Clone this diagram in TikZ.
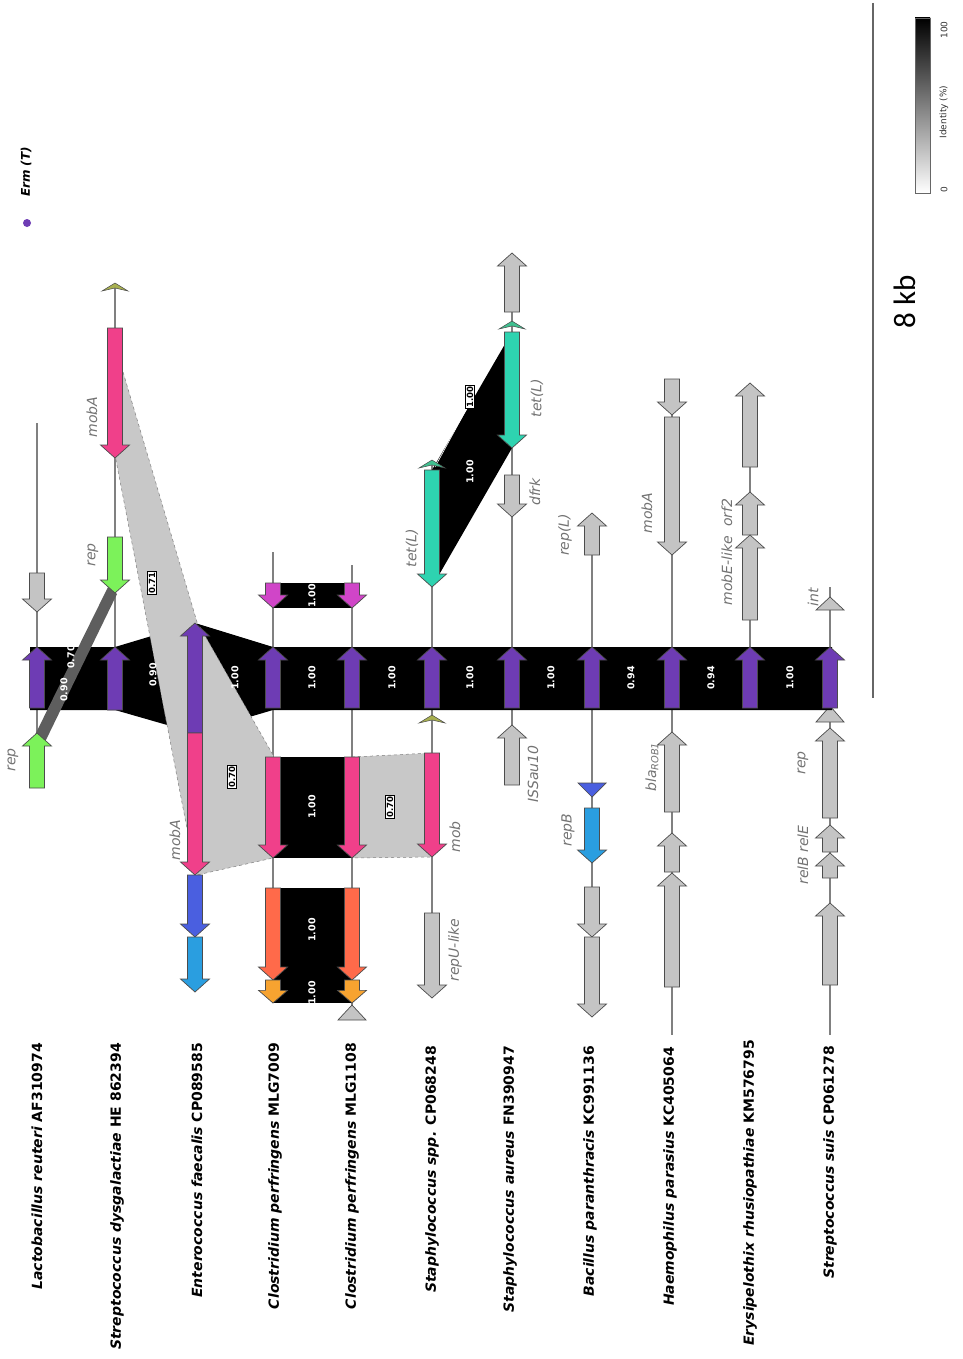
\documentclass[tikz,border=0pt]{standalone}
\usepackage{fontspec}
\setmainfont{DejaVu Sans}
\newfontfamily\kbfont{Carlito}
\definecolor{ermpurple}{HTML}{6E3CB4}
\definecolor{mobpink}{HTML}{F0408A}
\definecolor{repgreen}{HTML}{7CF25A}
\definecolor{magen}{HTML}{D045C8}
\definecolor{tealc}{HTML}{2ED3B0}
\definecolor{tomatoc}{HTML}{FF6A4A}
\definecolor{orangec}{HTML}{F7A330}
\definecolor{royalc}{HTML}{4A5FE0}
\definecolor{skyc}{HTML}{2A9EE0}
\definecolor{genegray}{HTML}{C4C4C4}
\definecolor{simgray}{HTML}{C8C8C8}
\definecolor{darkstrip}{HTML}{5E5E5E}
\definecolor{olivec}{HTML}{A8B050}
\definecolor{markgreen}{HTML}{40C090}
\newcommand\gene[4]{%
  \pgfmathsetmacro\gd{(#3>#2)?1:-1}%
  \pgfmathsetmacro\gl{abs(#3-#2)}%
  \pgfmathsetmacro\gh{min(13,0.55*\gl)}%
  \pgfmathsetmacro\gn{#3-\gd*\gh}%
  \filldraw[genebox, fill=#4] ({#1-7.5},#2) -- ({#1+7.5},#2) -- ({#1+7.5},\gn) -- ({#1+14.5},\gn) -- (#1,#3) -- ({#1-14.5},\gn) -- ({#1-7.5},\gn) -- cycle;}
\newcommand\tri[4]{% x, apex y, base y, colour
  \filldraw[genebox, fill=#4] (#1,#2) -- ({#1+14},#3) -- ({#1-14},#3) -- cycle;}
\newcommand\marker[3]{% x, y, colour
  \filldraw[genebox, line width=0.5pt, fill=#3] ({#1-13},{#2+3}) -- (#1,{#2-5}) -- ({#1+13},{#2+3}) -- (#1,{#2}) -- cycle;}
\tikzset{
 trk/.style={draw=black!50, line width=1.1pt},
 genebox/.style={draw=black!70, line width=0.7pt, line join=miter},
 glabel/.style={rotate=90, text=black!55, font=\fontsize{14}{16}\selectfont\itshape, inner sep=0pt},
 slabel/.style={rotate=90, anchor=east, font=\fontsize{14}{16}\selectfont\bfseries, inner sep=0pt},
 idval/.style={rotate=90, text=white, font=\fontsize{9.5}{10}\selectfont\bfseries, inner sep=0pt},
 idbox/.style={rotate=90, fill=white, draw=black, line width=0.9pt, font=\fontsize{8.5}{9}\selectfont\bfseries, inner sep=1pt},
 simreg/.style={fill=simgray, draw=black!50, dashed, line width=0.5pt},
}
\begin{document}
\begin{tikzpicture}[x=1pt,y=-1pt]
\useasboundingbox[fill=white] (0,0) rectangle (962,1359);
% ---------- legend ----------
\fill[ermpurple] (27,223) circle (4);
\node[rotate=90, font=\fontsize{12}{14}\selectfont\bfseries\itshape] (ermleg) at (26,172) {Erm (T)};
\shade[top color=black, bottom color=white] (915,18) rectangle (930,193);
\draw[black!60, line width=0.6pt] (915,18) rectangle (930,193);
\node[rotate=90, font=\fontsize{9}{10}\selectfont, text=black!80] (l100) at (944,30) {100};
\node[rotate=90, font=\fontsize{9}{10}\selectfont, text=black!80] (lid) at (944,112) {Identity (\%)};
\node[rotate=90, font=\fontsize{9}{10}\selectfont, text=black!80] (l0) at (944,190) {0};
% scale bar
\draw[black!60, line width=1.2pt] (873,3) -- (873,698);
\node[rotate=90, font=\kbfont\fontsize{31}{33}\selectfont] (kb) at (905,302) {8 kb};
% ---------- track lines ----------
\draw[trk] (37,423) -- (37,788);
\draw[trk] (115,288) -- (115,710);
\draw[trk] (273,552) -- (273,1003);
\draw[trk] (352,565) -- (352,1012);
\draw[trk] (432,463) -- (432,998);
\draw[trk] (512,253) -- (512,785);
\draw[trk] (592,513) -- (592,1017);
\draw[trk] (672,379) -- (672,1035);
\draw[trk] (750,383) -- (750,708);
\draw[trk] (830,587) -- (830,1035);
% triangle under band on T11 (partly hidden)
\tri{830}{706}{722}{genegray}
% ---------- similarity regions ----------
\fill[black] (30,647) -- (115,647) -- (195,623) -- (273,647) -- (832,647) -- (832,710) -- (273,710) -- (195,733) -- (115,710) -- (30,710) -- cycle;
\fill[darkstrip] (34,737) -- (45,742) -- (117,594) -- (108,587) -- cycle;
\filldraw[simreg] (118,355) -- (197,622) -- (195,870) -- (115,455) -- cycle;
\filldraw[simreg] (200,627) -- (273,755) -- (273,858) -- (197,875) -- cycle;
\filldraw[simreg] (352,757) -- (432,753) -- (432,857) -- (352,858) -- cycle;
\fill[black] (273,583) rectangle (352,608);
\fill[black] (273,757) rectangle (352,858);
\fill[black] (273,888) rectangle (352,1003);
\fill[black] (432,470) -- (512,332) -- (512,448) -- (432,587) -- cycle;
\draw[white, line width=0.6pt] (435,467) -- (509,331);
% ---------- genes ----------
% T1 Lactobacillus
\gene{37}{573}{612}{genegray}
\gene{37}{708}{647}{ermpurple}
\gene{37}{788}{733}{repgreen}
% T2 S. dysgalactiae
\marker{115}{288}{olivec}
\gene{115}{328}{458}{mobpink}
\gene{115}{537}{593}{repgreen}
\gene{115}{710}{647}{ermpurple}
% T3 Enterococcus
\gene{195}{733}{623}{ermpurple}
\gene{195}{733}{875}{mobpink}
\gene{195}{875}{937}{royalc}
\gene{195}{937}{992}{skyc}
% T4, T5 Clostridium
\foreach \xx in {273,352}{
  \gene{\xx}{583}{608}{magen}
  \gene{\xx}{708}{647}{ermpurple}
  \gene{\xx}{757}{858}{mobpink}
  \gene{\xx}{888}{980}{tomatoc}
  \gene{\xx}{980}{1003}{orangec}
}
\tri{352}{1005}{1020}{genegray}
% T6 Staphylococcus spp.
\marker{432}{465}{markgreen}
\gene{432}{470}{587}{tealc}
\gene{432}{708}{647}{ermpurple}
\marker{432}{720}{olivec}
\gene{432}{753}{857}{mobpink}
\gene{432}{913}{998}{genegray}
% T7 S. aureus
\gene{512}{312}{253}{genegray}
\marker{512}{326}{markgreen}
\gene{512}{332}{448}{tealc}
\gene{512}{475}{517}{genegray}
\gene{512}{708}{647}{ermpurple}
\gene{512}{785}{725}{genegray}
% T8 Bacillus
\gene{592}{555}{513}{genegray}
\gene{592}{708}{647}{ermpurple}
\filldraw[genebox, fill=royalc] (578,783) -- (606,783) -- (592,797) -- cycle;
\gene{592}{808}{863}{skyc}
\gene{592}{887}{937}{genegray}
\gene{592}{937}{1017}{genegray}
% T9 Haemophilus
\gene{672}{379}{415}{genegray}
\gene{672}{417}{555}{genegray}
\gene{672}{708}{647}{ermpurple}
\gene{672}{812}{732}{genegray}
\gene{672}{872}{833}{genegray}
\gene{672}{987}{873}{genegray}
% T10 Erysipelothrix
\gene{750}{467}{383}{genegray}
\gene{750}{535}{492}{genegray}
\gene{750}{620}{535}{genegray}
\gene{750}{708}{647}{ermpurple}
% T11 S. suis
\tri{830}{597}{610}{genegray}
\gene{830}{708}{647}{ermpurple}
\gene{830}{818}{728}{genegray}
\gene{830}{852}{825}{genegray}
\gene{830}{878}{853}{genegray}
\gene{830}{985}{903}{genegray}
% ---------- identity values ----------
\node[idval] (v12a) at (64,690) {0.90};
\node[idval] (v12b) at (71,657) {0.70};
\node[idval] (v23) at (153,675) {0.90};
\node[idval] (v34) at (235,678) {1.00};
\node[idval] (v45) at (312,678) {1.00};
\node[idval] (v56) at (392,678) {1.00};
\node[idval] (v67) at (470,678) {1.00};
\node[idval] (v78) at (551,678) {1.00};
\node[idval] (v89) at (631,678) {0.94};
\node[idval] (v910) at (711,678) {0.94};
\node[idval] (v1011) at (790,678) {1.00};
\node[idval] (vmag) at (312,596) {1.00};
\node[idval] (vpink) at (312,807) {1.00};
\node[idval] (vtom) at (312,930) {1.00};
\node[idval] (vora) at (312,993) {1.00};
\node[idval] (vtet) at (470,472) {1.00};
\node[idbox] (b23) at (152,583) {0.71};
\node[idbox] (b34) at (232,777) {0.70};
\node[idbox] (b56) at (390,807) {0.70};
\node[idbox] (btet) at (470,397) {1.00};
% ---------- gene labels ----------
\node[glabel] (g1) at (13,760) {rep};
\node[glabel] (g2) at (93,555) {rep};
\node[glabel] (g3) at (92,417) {mobA};
\node[glabel] (g4) at (175,840) {mobA};
\node[glabel] (g5) at (412,548) {tet(L)};
\node[glabel] (g6) at (455,837) {mob};
\node[glabel] (g7) at (455,950) {repU-like};
\node[glabel] (g8) at (537,398) {tet(L)};
\node[glabel] (g9) at (535,492) {dfrk};
\node[glabel] (g10) at (533,774) {ISSau10};
\node[glabel] (g11) at (565,535) {rep(L)};
\node[glabel] (g12) at (568,830) {repB};
\node[glabel] (g13) at (647,513) {mobA};
\node[glabel] (g14) at (652,767) {bla\textsubscript{ROB1}};
\node[glabel] (g15) at (727,552) {mobE-like\ \ orf2};
\node[glabel] (g16) at (813,597) {int};
\node[glabel] (g17) at (803,763) {rep};
\node[glabel] (g18) at (803,855) {relB\ relE};
% ---------- species labels ----------
\node[slabel] (s1) at (37,1043) {\itshape Lactobacillus reuteri \upshape AF310974};
\node[slabel] (s2) at (117,1043) {\itshape Streptococcus dysgalactiae \upshape HE 862394};
\node[slabel] (s3) at (197,1043) {\itshape Enterococcus faecalis \upshape CP089585};
\node[slabel] (s4) at (275,1043) {\itshape Clostridium perfringens \upshape MLG7009};
\node[slabel] (s5) at (352,1043) {\itshape Clostridium perfringens \upshape MLG1108};
\node[slabel] (s6) at (432,1046) {\itshape Staphylococcus spp. \upshape CP068248};
\node[slabel] (s7) at (510,1046) {\itshape Staphylococcus aureus \upshape FN390947};
\node[slabel] (s8) at (590,1046) {\itshape Bacillus paranthracis \upshape KC991136};
\node[slabel] (s9) at (670,1047) {\itshape Haemophilus parasius \upshape KC405064};
\node[slabel] (s10) at (750,1040) {\itshape Erysipelothix rhusiopathiae \upshape KM576795};
\node[slabel] (s11) at (830,1046) {\itshape Streptococcus suis \upshape CP061278};
\end{tikzpicture}
\end{document}
